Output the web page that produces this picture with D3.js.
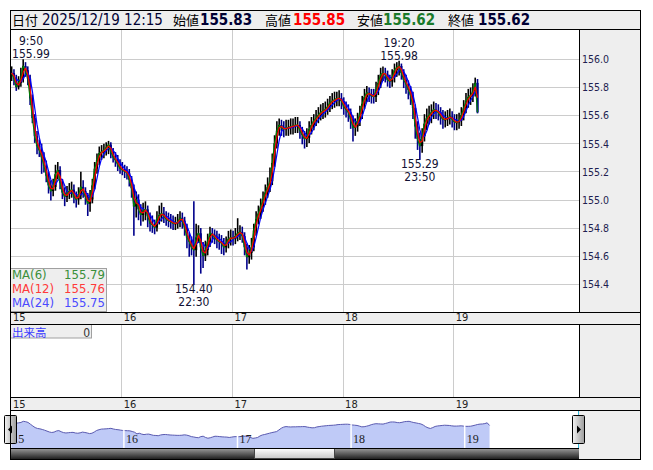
<!DOCTYPE html>
<html><head><meta charset="utf-8">
<script src="https://cdn.jsdelivr.net/npm/d3@7"></script>
<style>
html,body{margin:0;padding:0;background:#fff;}
svg{display:block;}
text{font-family:"DejaVu Sans Condensed","DejaVu Sans","Liberation Sans",sans-serif;font-stretch:condensed;}
.jp{font-family:"Noto Sans CJK JP","Noto Sans CJK SC",sans-serif;font-stretch:normal;}
.serif{font-family:"Liberation Serif","DejaVu Serif",serif;font-stretch:normal;}
</style></head><body>
<svg id="c" width="653" height="470"></svg>
<script>
// ---------------- DATA ----------------
const barMinutes = 30;            // one candle = 30 minutes, first candle starts 2025/12/15 07:00
const dayLabels = ["15","16","17","18","19"];
const firstOpen = 155.88;
const closes = [
155.90,155.86,155.80,155.83,155.86,155.95,155.92,155.86,155.72,155.58,
155.45,155.38,155.35,155.30,155.24,155.17,155.10,155.06,155.09,155.18,
155.21,155.12,155.05,155.02,155.04,155.06,155.07,155.02,155.00,155.03,
155.09,155.06,155.02,154.97,155.00,155.10,155.22,155.28,155.33,155.34,
155.35,155.37,155.39,155.34,155.30,155.28,155.25,155.22,155.21,155.20,
155.19,155.14,155.08,154.95,155.00,154.93,154.89,154.92,154.93,154.88,
154.83,154.82,154.80,154.86,154.89,154.90,154.88,154.86,154.85,154.84,
154.83,154.83,154.84,154.87,154.85,154.80,154.73,154.70,154.66,154.64,
154.73,154.76,154.66,154.60,154.64,154.70,154.76,154.75,154.73,154.71,
154.70,154.69,154.66,154.69,154.72,154.73,154.72,154.74,154.76,154.77,
154.74,154.66,154.59,154.62,154.66,154.78,154.86,154.90,154.95,155.00,
155.05,155.09,155.13,155.26,155.40,155.49,155.53,155.51,155.50,155.51,
155.51,155.52,155.52,155.53,155.53,155.49,155.46,155.43,155.44,155.50,
155.53,155.56,155.58,155.60,155.62,155.63,155.64,155.66,155.69,155.70,
155.71,155.72,155.72,155.70,155.66,155.64,155.62,155.57,155.51,155.52,
155.56,155.61,155.68,155.73,155.76,155.75,155.74,155.73,155.78,155.83,
155.89,155.90,155.89,155.85,155.84,155.87,155.92,155.94,155.95,155.90,
155.85,155.82,155.78,155.74,155.65,155.52,155.43,155.38,155.45,155.54,
155.58,155.60,155.62,155.64,155.63,155.62,155.59,155.57,155.57,155.58,
155.59,155.57,155.55,155.55,155.56,155.60,155.65,155.70,155.73,155.74,
155.77,155.83,155.62
];
const highs = [
155.94,155.92,155.88,155.87,155.93,155.99,155.97,155.94,155.88,155.74,
155.60,155.48,155.42,155.39,155.33,155.27,155.19,155.13,155.14,155.24,
155.26,155.23,155.14,155.08,155.09,155.11,155.12,155.10,155.05,155.08,
155.19,155.13,155.08,155.04,155.06,155.14,155.26,155.32,155.37,155.38,
155.39,155.40,155.41,155.40,155.36,155.33,155.31,155.28,155.26,155.24,
155.23,155.21,155.16,155.10,155.05,155.03,154.96,154.97,154.98,154.95,
154.90,154.88,154.85,154.91,154.95,154.97,154.94,154.91,154.90,154.89,
154.88,154.87,154.89,154.91,154.90,154.87,154.82,154.76,154.73,154.98,
154.82,154.81,154.79,154.69,154.70,154.75,154.80,154.79,154.78,154.77,
154.75,154.74,154.72,154.73,154.77,154.78,154.77,154.79,154.86,154.81,
154.80,154.76,154.68,154.67,154.72,154.82,154.91,154.95,155.00,155.05,
155.10,155.15,155.22,155.32,155.45,155.55,155.57,155.56,155.55,155.56,
155.56,155.57,155.57,155.58,155.58,155.55,155.51,155.48,155.50,155.55,
155.58,155.60,155.63,155.65,155.67,155.68,155.69,155.71,155.73,155.75,
155.76,155.76,155.77,155.75,155.72,155.69,155.67,155.64,155.59,155.57,
155.61,155.66,155.73,155.78,155.80,155.79,155.78,155.78,155.83,155.88,
155.93,155.94,155.93,155.91,155.88,155.92,155.96,155.97,155.98,155.96,
155.92,155.88,155.84,155.80,155.76,155.67,155.55,155.47,155.50,155.60,
155.64,155.66,155.67,155.69,155.68,155.67,155.65,155.63,155.62,155.63,
155.64,155.62,155.60,155.60,155.61,155.65,155.70,155.75,155.78,155.79,
155.82,155.86,155.85
];
const lows = [
155.85,155.82,155.78,155.79,155.81,155.84,155.88,155.82,155.68,155.55,
155.41,155.33,155.31,155.19,155.20,155.13,155.05,155.00,155.03,155.07,
155.15,155.08,155.01,154.96,154.99,155.01,155.02,154.98,154.95,154.97,
155.01,155.02,154.97,154.89,154.92,154.98,155.08,155.19,155.25,155.29,
155.30,155.32,155.33,155.30,155.27,155.24,155.21,155.19,155.18,155.16,
155.15,155.10,155.02,154.75,154.88,154.86,154.82,154.85,154.86,154.81,
154.78,154.77,154.76,154.78,154.83,154.85,154.84,154.82,154.81,154.80,
154.79,154.79,154.80,154.81,154.80,154.75,154.66,154.60,154.61,154.40,
154.60,154.70,154.48,154.52,154.57,154.61,154.67,154.70,154.69,154.66,
154.65,154.62,154.61,154.63,154.66,154.68,154.68,154.69,154.71,154.72,
154.70,154.61,154.51,154.55,154.58,154.64,154.75,154.83,154.87,154.92,
154.97,155.02,155.06,155.11,155.24,155.37,155.46,155.46,155.45,155.46,
155.46,155.47,155.47,155.48,155.48,155.44,155.40,155.37,155.38,155.41,
155.47,155.50,155.53,155.55,155.57,155.58,155.59,155.61,155.63,155.65,
155.66,155.67,155.67,155.65,155.61,155.59,155.56,155.51,155.42,155.46,
155.49,155.53,155.58,155.65,155.70,155.70,155.69,155.69,155.70,155.75,
155.80,155.85,155.84,155.81,155.80,155.81,155.84,155.88,155.89,155.86,
155.80,155.76,155.72,155.68,155.58,155.44,155.36,155.29,155.34,155.42,
155.50,155.54,155.55,155.58,155.58,155.57,155.54,155.51,155.52,155.53,
155.54,155.52,155.50,155.50,155.51,155.53,155.57,155.62,155.66,155.68,
155.70,155.74,155.62
];
const priceTicks = [154.4,154.6,154.8,155.0,155.2,155.4,155.6,155.8,156.0];
const maPeriods = [6, 12, 24];          // periods in 5-minute units
const maLastValues = ["155.79","155.76","155.75"];
const headerLabels = ["日付","始値","高値","安値","終値"];
const headerValues = ["2025/12/19 12:15","155.83","155.85","155.62","155.62"];
const extremes = [
  {bar:5,   time:"9:50",  price:"155.99", kind:"high"},
  {bar:79,  time:"22:30", price:"154.40", kind:"low"},
  {bar:168, time:"19:20", price:"155.98", kind:"high"},
  {bar:177, time:"23:50", price:"155.29", kind:"low"}
];
const volumeLabel = "出来高";
const volumeValue = "0";

// ---------------- STYLE / LAYOUT ----------------
const upColor = "#000000", downColor = "#00008b";
const maColors = ["#008000","#ff0000","#0000ff"];
const maLegendColors = ["#3a8f3a","#ff3a3a","#4a4aff"];
const gray = "#eeeeee", gridColor = "#cccccc";

const svg = d3.select("#c");
const defs = svg.append("defs");
defs.append("clipPath").attr("id","clipMain").append("rect").attr("x",10).attr("y",29).attr("width",569).attr("height",283);
const gd = defs.append("linearGradient").attr("id","dark").attr("x1",0).attr("y1",0).attr("x2",0).attr("y2",1);
gd.append("stop").attr("offset","0%").attr("stop-color","#a0a0a0");
gd.append("stop").attr("offset","100%").attr("stop-color","#202020");
const gl = defs.append("linearGradient").attr("id","light").attr("x1",0).attr("y1",0).attr("x2",0).attr("y2",1);
gl.append("stop").attr("offset","0%").attr("stop-color","#ffffff");
gl.append("stop").attr("offset","100%").attr("stop-color","#c8c8c8");
const gb = defs.append("linearGradient").attr("id","btn").attr("x1",0).attr("y1",0).attr("x2",1).attr("y2",0);
gb.append("stop").attr("offset","0%").attr("stop-color","#f4f4f4");
gb.append("stop").attr("offset","100%").attr("stop-color","#9a9a9a");

// backgrounds
const rect = (x,y,w,h,fill)=>svg.append("rect").attr("x",x).attr("y",y).attr("width",w).attr("height",h).attr("fill",fill);
rect(10,10,630,19,gray);          // header
rect(579,29,61,283,gray);         // price axis panel
rect(10,312,630,12,gray);         // date row 1
rect(579,324,61,73,gray);         // volume axis panel
rect(10,397,630,13,gray);         // date row 2
rect(579,410,61,49,gray);         // navigator right

// scales
const hoursPerBar = barMinutes/60;
const bars = closes.map((c,i)=>({i, t:(i+0.5)*hoursPerBar, o: i ? closes[i-1] : firstOpen, h:highs[i], l:lows[i], c}));
const x = d3.scaleLinear().domain([0,120]).range([10.5, 10.5+5*110.7]);
const y = d3.scaleLinear().domain([154.2,156.213]).range([312,29]);
const dayHours = dayLabels.map((d,i)=>i*24);

// grid
const grid = svg.append("g").attr("shape-rendering","crispEdges");
grid.selectAll("line.h").data(priceTicks).join("line")
  .attr("x1",10).attr("x2",579).attr("y1",d=>Math.round(y(d))+0.5).attr("y2",d=>Math.round(y(d))+0.5)
  .attr("stroke",gridColor);
grid.selectAll("line.v").data(dayHours.slice(1)).join("line")
  .attr("x1",d=>Math.round(x(d))+0.5).attr("x2",d=>Math.round(x(d))+0.5).attr("y1",29).attr("y2",312)
  .attr("stroke",gridColor);
grid.selectAll("line.vv").data(dayHours.slice(1)).join("line")
  .attr("x1",d=>Math.round(x(d))+0.5).attr("x2",d=>Math.round(x(d))+0.5).attr("y1",324).attr("y2",397)
  .attr("stroke",gridColor);

// candles
const cg = svg.append("g").attr("clip-path","url(#clipMain)");
const step = x(hoursPerBar)-x(0);
const bw = step*0.95;
cg.selectAll("line.wick").data(bars).join("line")
  .attr("x1",d=>x(d.t)).attr("x2",d=>x(d.t)).attr("y1",d=>y(d.h)-1).attr("y2",d=>y(d.l)+1)
  .attr("stroke",d=>d.c>=d.o?upColor:downColor).attr("stroke-width",1.6);
cg.selectAll("rect.body").data(bars).join("rect")
  .attr("x",d=>x(d.t)-bw/2).attr("width",bw)
  .attr("y",d=>y(Math.max(d.o,d.c))).attr("height",d=>Math.max(1,Math.abs(y(d.o)-y(d.c))))
  .attr("fill",d=>d.c>=d.o?upColor:downColor);

// moving averages
const maSeries = maPeriods.map(p=>{
  const w = Math.max(1, Math.round(p*5/barMinutes));
  return bars.map((b,i)=>({t:b.t, v:d3.mean(closes.slice(Math.max(0,i-w+1), i+1))}));
});
const line = d3.line().x(d=>x(d.t)).y(d=>y(d.v));
[2,0,1].forEach(k=>{
  cg.append("path").datum(maSeries[k]).attr("d",line).attr("fill","none")
    .attr("stroke",maColors[k]).attr("stroke-width",1.2).attr("stroke-linejoin","round");
});

// extremes annotations
extremes.forEach(e=>{
  const b = bars[e.bar];
  let cx = x(b.t);
  cx = Math.max(31, Math.min(560, cx));
  const g = svg.append("g").attr("fill","#111133").attr("font-size",12).attr("text-anchor","middle");
  const yy = y(+e.price);
  if (e.kind==="high"){
    g.append("text").attr("x",cx).attr("y",yy-15).text(e.time);
    g.append("text").attr("x",cx).attr("y",yy-2).text(e.price);
  } else {
    g.append("text").attr("x",cx).attr("y",yy+9).text(e.price);
    g.append("text").attr("x",cx).attr("y",yy+22).text(e.time);
  }
});

// price axis
const yAxis = d3.axisRight(y).tickValues(priceTicks).tickFormat(d3.format(".1f")).tickSize(0).tickPadding(3);
const ya = svg.append("g").attr("transform","translate(579,0)").call(yAxis);
ya.select(".domain").remove();
ya.selectAll("text").attr("fill","#1e1e50").attr("font-size",10.5).attr("font-family",null).attr("dy","0.36em");

// MA legend
const lg = svg.append("g");
lg.append("rect").attr("x",10.5).attr("y",268.5).attr("width",96).attr("height",43).attr("fill",gray).attr("stroke","#a0a0a0");
maPeriods.forEach((p,i)=>{
  lg.append("text").attr("x",12).attr("y",279+i*14).attr("font-size",13).attr("fill",maLegendColors[i]).text(`MA(${p})`);
  lg.append("text").attr("x",105).attr("y",279+i*14).attr("font-size",13).attr("text-anchor","end").attr("fill",maLegendColors[i]).text(maLastValues[i]);
});

// day axes
function dayAxis(yBase){
  const ax = d3.axisBottom(x).tickValues(dayHours).tickFormat((d,i)=>dayLabels[i]).tickSize(0);
  const g = svg.append("g").attr("transform",`translate(0,${yBase})`).call(ax);
  g.select(".domain").remove();
  g.selectAll("text").attr("y",0).attr("dy",null).attr("dx",2).attr("text-anchor","start")
    .attr("fill","#222").attr("font-size",11).attr("font-family",null);
}
dayAxis(321);
dayAxis(407.5);

// volume legend
svg.append("rect").attr("x",10.5).attr("y",324.5).attr("width",81).attr("height",13.5).attr("fill",gray).attr("stroke","#a0a0a0");
svg.append("text").attr("class","jp").attr("x",12).attr("y",336.5).attr("font-size",11.5).attr("fill","#3b3bff").text(volumeLabel);
svg.append("text").attr("x",90).attr("y",336.5).attr("font-size",12).attr("text-anchor","end").attr("fill","#333").text(volumeValue);

// navigator
const xn = d3.scaleLinear().domain([0,120]).range([10.3, 10.3+5*113.6]);
const yn = d3.scaleLinear().domain([153.82,156.0]).range([448,420.7]);
const area = d3.area().x(d=>xn(d.t)).y0(448).y1(d=>yn(d.c));
svg.append("path").datum(bars).attr("d",area).attr("fill","#bfcaf7");
svg.append("path").datum(bars).attr("d",d3.line().x(d=>xn(d.t)).y(d=>yn(d.c))).attr("fill","none").attr("stroke","#5a5ab0").attr("stroke-width",1);
svg.selectAll("line.navsep").data(dayHours.slice(1)).join("line")
  .attr("x1",d=>xn(d)).attr("x2",d=>xn(d)).attr("y1",412).attr("y2",448).attr("stroke","#fff").attr("stroke-width",1.5);
svg.selectAll("text.navlab").data(dayHours).join("text").attr("class","serif")
  .attr("x",d=>xn(d)+2).attr("y",443).attr("font-size",12).attr("fill","#222").text((d,i)=>dayLabels[i]);
svg.append("line").attr("x1",10.5).attr("x2",10.5).attr("y1",410).attr("y2",448).attr("stroke","#33bbdd");
svg.append("line").attr("x1",578.5).attr("x2",578.5).attr("y1",410).attr("y2",448).attr("stroke","#33bbdd");

// scrollbar
rect(10,448,569,11,"url(#dark)");
svg.append("rect").attr("x",254.5).attr("y",448.5).attr("width",80).attr("height",10).attr("fill","url(#light)").attr("stroke","#444").attr("stroke-width",1);

// arrow buttons
[[4.5,"l"],[572.5,"r"]].forEach(([bx,dir])=>{
  svg.append("rect").attr("x",bx).attr("y",415.5).attr("width",12).attr("height",28).attr("rx",1)
    .attr("fill","url(#btn)").attr("stroke","#000");
  const cx = bx+6;
  const pts = dir==="l" ? [[cx-2.5,429.5],[cx+1.5,425.5],[cx+1.5,433.5]] : [[cx+2.5,429.5],[cx-1.5,425.5],[cx-1.5,433.5]];
  svg.append("polygon").attr("points",pts.map(p=>p.join(",")).join(" ")).attr("fill","#000");
});

// frame lines
const bl = svg.append("g").attr("stroke","#000").attr("shape-rendering","crispEdges");
const hl = (x1,x2,yy)=>bl.append("line").attr("x1",x1).attr("x2",x2).attr("y1",yy).attr("y2",yy);
const vl = (xx,y1,y2)=>bl.append("line").attr("x1",xx).attr("x2",xx).attr("y1",y1).attr("y2",y2);
hl(10,641,10.5); hl(10,641,29.5); hl(10,641,312.5); hl(10,641,324.5); hl(10,641,397.5); hl(10,641,410.5);
hl(10,579,448.5); hl(10,641,459.5);
vl(10.5,10,460); vl(640.5,10,460); vl(579.5,29,313); vl(579.5,324,398);

// header
const hg = svg.append("g");
const hpos = [[12,42],[173,200],[265,293],[357,383],[448,478]];
const hcolors = ["#000033","#000033","#ff0000","#1a7a2a","#000033"];
headerLabels.forEach((lab,i)=>{
  hg.append("text").attr("class","jp").attr("x",hpos[i][0]).attr("y",25).attr("font-size",13).attr("fill","#000").text(lab);
  hg.append("text").attr("x",hpos[i][1]).attr("y",25).attr("font-size",15)
    .attr("font-weight",i===0?"normal":"bold").attr("fill",hcolors[i]).text(headerValues[i]);
});
</script>
</body></html>
